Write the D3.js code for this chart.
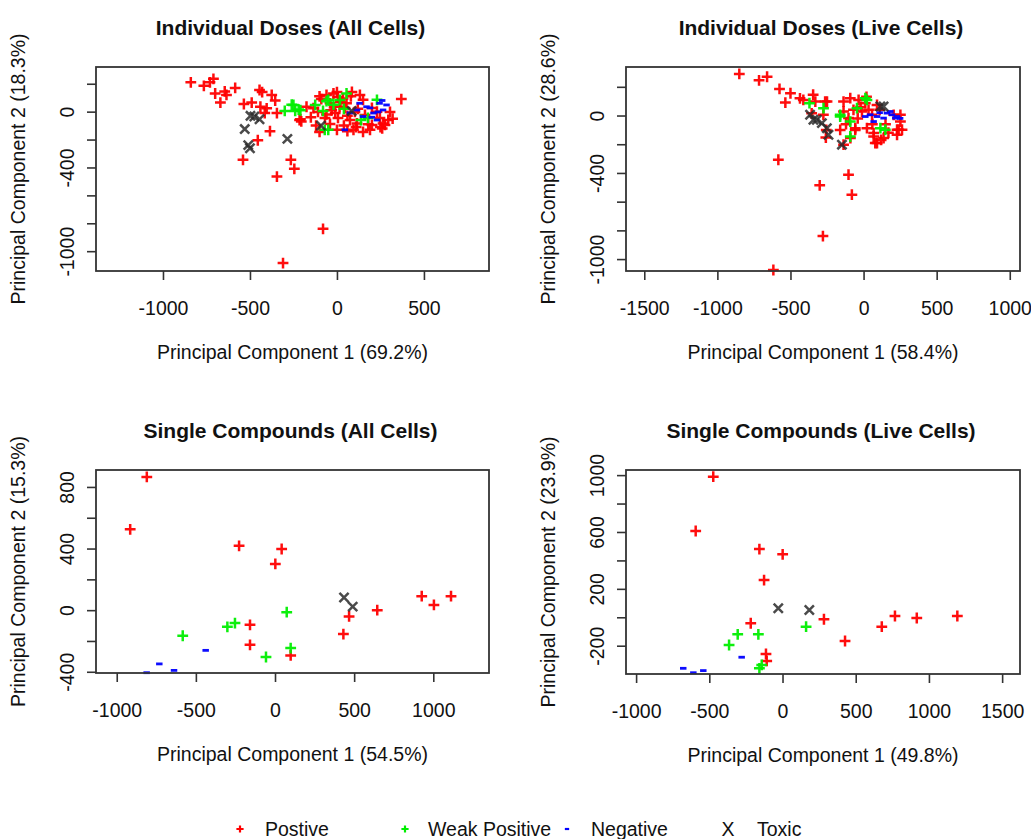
<!DOCTYPE html>
<html><head><meta charset="utf-8">
<script src="https://cdn.jsdelivr.net/npm/d3@7"></script>
<style>
body{margin:0;background:#fff}
text{font-family:"Liberation Sans",Arial,Helvetica,sans-serif;fill:#111}
</style></head>
<body><svg id="chart" width="1031" height="839"></svg>
<script>
// ---------- DATA ----------
const panelTitles = ["Individual Doses (All Cells)", "Individual Doses (Live Cells)", "Single Compounds (All Cells)", "Single Compounds (Live Cells)"];
const pc1Labels = ["Principal Component 1 (69.2%)", "Principal Component 1 (58.4%)", "Principal Component 1 (54.5%)", "Principal Component 1 (49.8%)"];
const pc2Labels = ["Principal Component 2 (18.3%)", "Principal Component 2 (28.6%)", "Principal Component 2 (15.3%)", "Principal Component 2 (23.9%)"];
const classNames = ["Postive", "Weak Positive", "Negative", "Toxic"];

// axis ticks (all ticks) and which get labels
const xTicks = [[-1000,-500,0,500],[-1500,-1000,-500,0,500,1000],[-1000,-500,0,500,1000],[-1000,-500,0,500,1000,1500]];
const yTicks = [[200,0,-200,-400,-600,-800,-1000],[200,0,-200,-400,-600,-800,-1000],[800,600,400,200,0,-200,-400],[1000,800,600,400,200,0,-200]];
const yTickLabels = [[0,-400,-1000],[0,-400,-1000],[800,400,0,-400],[1000,600,200,-200]];
const xDomains = [[-1385,874],[-1625,1070],[-1131,1352],[-1069,1622]];
const yDomains = [[-1142,320],[-1083,338],[-408,910],[-399,1036]];

// Panel 1: Individual doses, all cells  [PC1, PC2]
const dosesAllPositive = [[-840,210],[-765,185],[-730,210],[-710,235],[-700,130],[-645,145],[-635,120],[-585,170],[-670,65],[-535,55],[-490,65],[-445,155],[-430,140],[-375,120],[-355,80],[-440,35],[-415,-10],[-345,-10],[-385,-140],[-455,-205],[-540,-345],[-265,-345],[-245,-410],[-345,-465],[-80,-840],[-310,-1085],[-215,-60],[370,90],[-100,-145],[-60,120],[-20,130],[5,105],[35,95],[-40,60],[15,35],[55,60],[75,-60],[115,-85],[150,-145],[190,-130],[265,-85],[295,-60],[-135,25],[-175,35],[-210,-55],[-10,-10],[0,-130],[95,-130],[230,0],[150,85],[46,26],[103,-2],[161,-24],[201,26],[247,-45],[276,-95],[305,-2],[-69,-45],[-109,-2],[132,120],[86,141],[6,-45],[-40,-88],[201,-95],[-205,-70],[-404,24],[-150,-40],[250,-110],[-30,10],[60,-30],[120,20],[20,70],[80,110],[-90,90],[180,-90],[110,-110],[-120,-100],[320,-50],[260,-120],[40,-100],[-60,-20],[0,140],[-100,110],[60,-140]];
const dosesAllWeak = [[-300,5],[-260,50],[-240,5],[-220,15],[-250,48],[-210,10],[-60,75],[-80,5],[-50,-130],[55,130],[230,85],[-70,-130],[-50,85],[-125,48],[178,-45],[17,84],[138,-60],[-20,50],[40,20]];
const dosesAllNegative = [[115,12],[170,35],[210,-10],[245,60],[265,12],[150,-35],[45,-130],[230,-60],[130,60],[285,48],[190,27],[236,-2],[75,-9],[200,-40],[260,80]];
const dosesAllToxic = [[-475,-35],[-445,-55],[-530,-125],[-510,-240],[-500,-262],[-285,-195],[-92,-100],[85,5],[-497,-30]];

// Panel 2: Individual doses, live cells
const dosesLivePositive = [[-850,290],[-715,245],[-660,270],[-575,185],[-500,155],[-535,90],[-435,120],[-345,145],[-330,97],[-250,97],[-355,15],[-275,5],[-255,-100],[-258,-153],[-160,-100],[-57,-100],[-90,-157],[-137,-203],[-583,-308],[-300,-486],[-103,-412],[-80,-551],[-278,-840],[-617,-1076],[92,-192],[69,-146],[229,-99],[263,-99],[252,5],[229,-134],[-263,97],[-137,97],[-91,121],[-34,109],[12,86],[-137,28],[-69,40],[-11,28],[34,40],[58,5],[-57,-88],[23,-88],[69,-122],[80,-192],[137,-157],[240,-99],[252,-42],[206,5],[-103,-18],[92,74],[-412,109],[-20,60],[110,40],[150,-60],[-40,-20],[170,-120],[60,-60],[-120,-60],[120,-170],[20,130]];
const dosesLiveWeak = [[-370,86],[-274,51],[-160,-7],[-91,-146],[23,109],[115,-88],[149,-99],[-45,51],[12,121],[-160,5],[-91,-42]];
const dosesLiveNegative = [[46,5],[92,-7],[160,17],[195,5],[229,-7],[137,-18],[69,-42],[183,28],[12,-7],[217,-18],[110,20],[250,-20]];
const dosesLiveToxic = [[-366,5],[-320,-30],[-285,-53],[-251,-88],[-240,-134],[-148,-203],[137,63],[115,63],[-343,-30]];

// Panel 3: Single compounds, all cells
const singleAllPositive = [[-810,865],[-915,525],[-227,418],[42,397],[2,300],[-158,-95],[-158,-225],[99,-294],[432,-155],[468,-41],[646,0],[927,91],[1004,34],[1112,91]];
const singleAllWeak = [[-583,-166],[-301,-108],[-253,-84],[74,-13],[99,-246],[-57,-304]];
const singleAllNegative = [[-438,-261],[-731,-349],[-638,-391],[-811,-406]];
const singleAllToxic = [[436,82],[491,23]];

// Panel 4: Single compounds, live cells
const singleLivePositive = [[-473,989],[-593,607],[-158,480],[1,443],[-126,262],[-217,-42],[283,-14],[427,-167],[678,-66],[768,9],[917,-5],[1194,9],[-113,-258],[-108,-307]];
const singleLiveWeak = [[-365,-195],[-306,-120],[-165,-120],[161,-66],[-142,-335],[-158,-359]];
const singleLiveNegative = [[-279,-281],[-678,-359],[-609,-390],[-541,-375]];
const singleLiveToxic = [[-29,63],[183,51]];

const panelData = [
  [dosesAllPositive, dosesAllWeak, dosesAllNegative, dosesAllToxic],
  [dosesLivePositive, dosesLiveWeak, dosesLiveNegative, dosesLiveToxic],
  [singleAllPositive, singleAllWeak, singleAllNegative, singleAllToxic],
  [singleLivePositive, singleLiveWeak, singleLiveNegative, singleLiveToxic]
];

// ---------- LAYOUT / STYLE ----------
const boxes = [
  {x0:96, x1:489, y0:67, y1:271},
  {x0:626, x1:1020, y0:67, y1:271},
  {x0:96, x1:489, y0:470, y1:673},
  {x0:626, x1:1020, y0:470, y1:674}
];
const colors = ["#ff0000", "#00ee00", "#0000ff", "#2a2a2a"];
const AXIS_FS = 19.5, TITLE_FS = 21;

const svg = d3.select("#chart");

function markerPath(cls, s) {
  if (cls === 0 || cls === 1) return `M${-s},0H${s}M0,${-s}V${s}`;
  if (cls === 2) return `M${-s*0.6},0H${s*0.6}`;
  const d = s * 0.85;
  return `M${-d},${-d}L${d},${d}M${-d},${d}L${d},${-d}`;
}

boxes.forEach((b, i) => {
  const g = svg.append("g");
  const x = d3.scaleLinear().domain(xDomains[i]).range([b.x0, b.x1]);
  const y = d3.scaleLinear().domain(yDomains[i]).range([b.y1, b.y0]);

  panelData[i].forEach((arr, cls) => {
    g.append("g").selectAll("path").data(arr).join("path")
      .attr("transform", d => `translate(${x(d[0])},${y(d[1])})`)
      .attr("d", markerPath(cls, 5.4))
      .attr("fill", "none")
      .attr("stroke", colors[cls])
      .attr("stroke-width", cls === 2 ? 2.8 : 2.5)
      .attr("stroke-opacity", cls === 3 ? 0.85 : 0.95);
  });

  g.append("rect").attr("x", b.x0).attr("y", b.y0)
    .attr("width", b.x1 - b.x0).attr("height", b.y1 - b.y0)
    .attr("fill", "none").attr("stroke", "#333").attr("stroke-width", 1.8);

  const xa = g.append("g").attr("transform", `translate(0,${b.y1})`)
    .call(d3.axisBottom(x).tickValues(xTicks[i]).tickSize(9).tickPadding(0).tickFormat(d3.format("d")));
  xa.select(".domain").remove();
  xa.selectAll(".tick line").attr("stroke", "#333").attr("stroke-width", 1.6);
  xa.selectAll(".tick text").attr("y", 37).attr("dy", "0.35em")
    .attr("font-size", AXIS_FS).attr("fill", "#111")
    .attr("font-family", '"Liberation Sans",Arial,sans-serif')
    .text(d => d < 0 ? "-" + Math.abs(d) : d);

  const ya = g.append("g").attr("transform", `translate(${b.x0},0)`)
    .call(d3.axisLeft(y).tickValues(yTicks[i]).tickSize(9).tickPadding(0)
      .tickFormat(d => yTickLabels[i].includes(d) ? (d < 0 ? "-" + Math.abs(d) : String(d)) : ""));
  ya.select(".domain").remove();
  ya.selectAll(".tick line").attr("stroke", "#333").attr("stroke-width", 1.6);
  ya.selectAll(".tick text").attr("x", 0).attr("dy", null)
    .attr("transform", "translate(-29,0) rotate(-90)")
    .attr("text-anchor", "middle").attr("dominant-baseline", "central")
    .attr("font-size", AXIS_FS).attr("fill", "#111")
    .attr("font-family", '"Liberation Sans",Arial,sans-serif');

  const cx = (b.x0 + b.x1) / 2, cy = (b.y0 + b.y1) / 2;
  g.append("text").attr("x", cx - 2).attr("y", b.y0 - 40)
    .attr("text-anchor", "middle").attr("dominant-baseline", "central")
    .attr("font-weight", "bold").attr("font-size", TITLE_FS).text(panelTitles[i]);
  g.append("text").attr("x", cx).attr("y", b.y1 + 81)
    .attr("text-anchor", "middle").attr("dominant-baseline", "central")
    .attr("font-size", AXIS_FS).text(pc1Labels[i]);
  g.append("text").attr("transform", `translate(${b.x0 - 78},${cy}) rotate(-90)`)
    .attr("text-anchor", "middle").attr("dominant-baseline", "central")
    .attr("font-size", AXIS_FS).text(pc2Labels[i]);
});

// ---------- LEGEND ----------
const legendItems = [
  {cls:0, mx:240, tx:265},
  {cls:1, mx:405, tx:428},
  {cls:2, mx:567, tx:591},
  {cls:3, mx:728, tx:757}
];
const ly = 829;
const lg = svg.append("g");
legendItems.forEach(it => {
  if (it.cls === 3) {
    lg.append("text").attr("x", it.mx).attr("y", ly).attr("text-anchor", "middle")
      .attr("dominant-baseline", "central").attr("font-size", AXIS_FS).text("X");
  } else {
    lg.append("path").attr("transform", `translate(${it.mx},${ly})`)
      .attr("d", markerPath(it.cls, 3.6)).attr("fill", "none")
      .attr("stroke", colors[it.cls]).attr("stroke-width", 2.2);
  }
  lg.append("text").attr("x", it.tx).attr("y", ly).attr("dominant-baseline", "central")
    .attr("font-size", AXIS_FS).text(classNames[it.cls]);
});
</script></body></html>
